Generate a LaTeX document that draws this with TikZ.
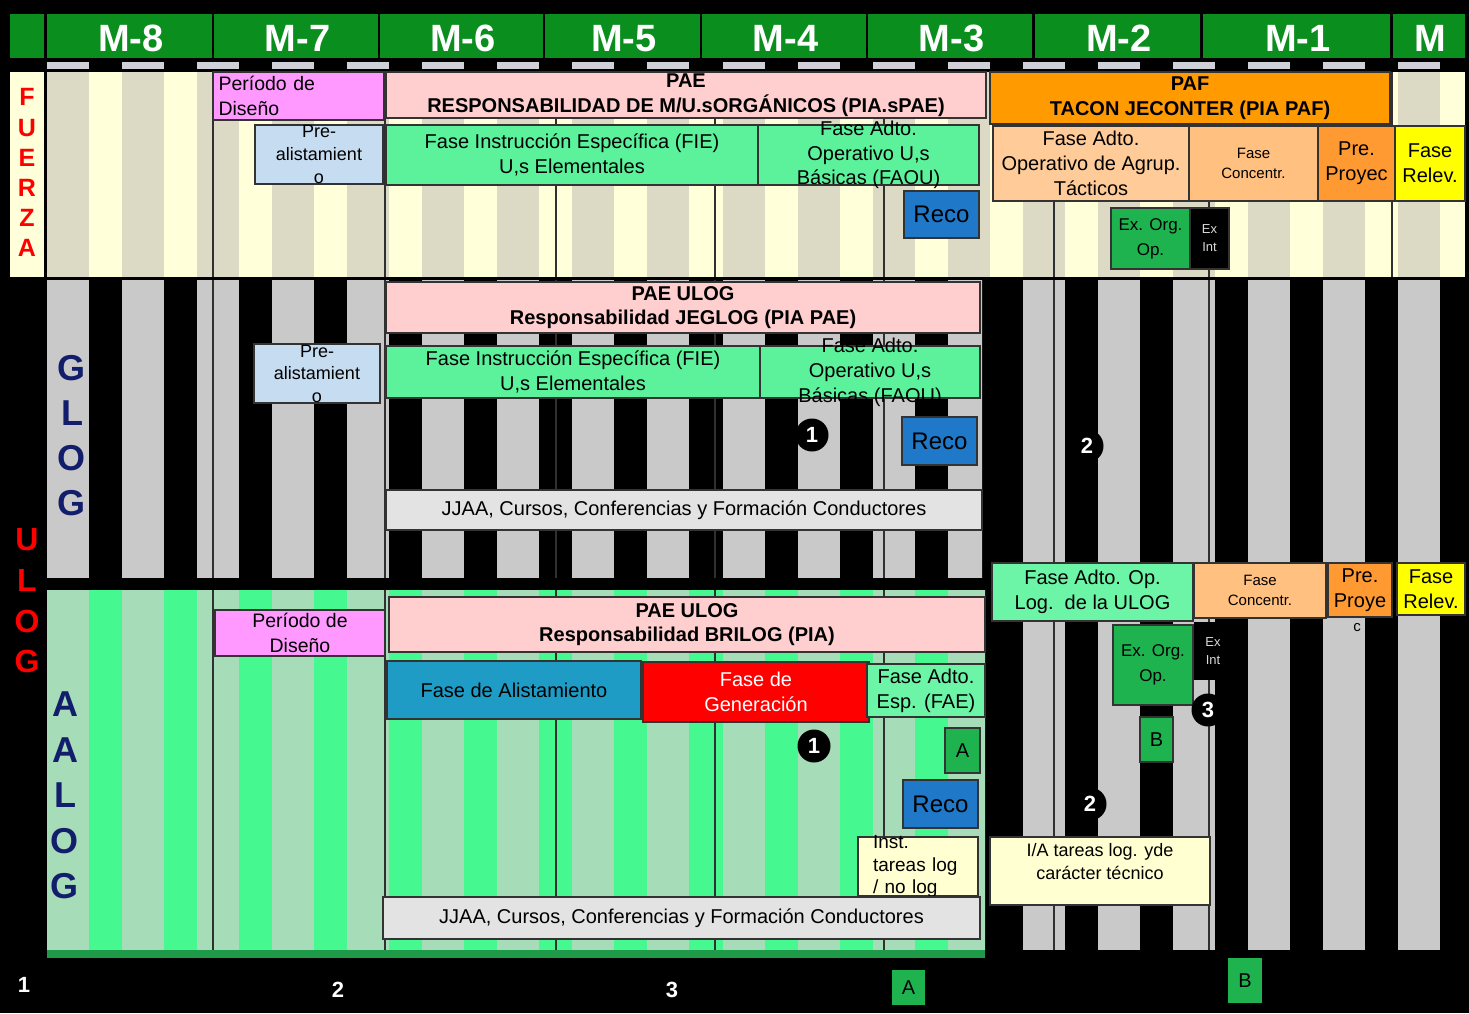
\documentclass[tikz,border=0pt]{standalone}
\usepackage{fontspec}
\setmainfont{Liberation Sans}
\newcommand\fsz[2]{\fontsize{#1}{#2}\selectfont}
\definecolor{hdr}{HTML}{0A8F1E}
\definecolor{tick}{HTML}{D0D0D8}
\definecolor{fy}{HTML}{FFFFDA}
\definecolor{fs}{HTML}{DCDAC5}
\definecolor{gs}{HTML}{C9C9C9}
\definecolor{ag}{HTML}{45F88F}
\definecolor{as}{HTML}{A7DCB9}
\definecolor{agd}{HTML}{1F9A48}
\definecolor{pinkc}{HTML}{FFCFCF}
\definecolor{mag}{HTML}{FF99FF}
\definecolor{lblue}{HTML}{C6DCF0}
\definecolor{fgreen}{HTML}{5CF29C}
\definecolor{reco}{HTML}{1F78C8}
\definecolor{paf}{HTML}{FF9A00}
\definecolor{peach}{HTML}{FFCC99}
\definecolor{conc}{HTML}{FFC080}
\definecolor{proy}{HTML}{FF9A33}
\definecolor{yel}{HTML}{FFFF00}
\definecolor{exg}{HTML}{1FB350}
\definecolor{teal}{HTML}{1E9CC6}
\definecolor{fae}{HTML}{6CF5A6}
\definecolor{inst}{HTML}{FFFFD2}
\definecolor{jj}{HTML}{E3E3E3}
\definecolor{navy}{HTML}{121E6C}
\definecolor{mline}{HTML}{303030}
\tikzset{
 bxs/.style={draw=black!80, line width=1.2pt, inner sep=0pt},
 txt/.style={inner sep=0pt, align=center, font=\fsz{20}{25}},
 ttl/.style={font=\bfseries\fsz{20}{24.5}},
 hdrbox/.style={fill=hdr, inner sep=0pt},
 hdrtxt/.style={inner sep=0pt, text=white, font=\bfseries\fsz{38}{40}},
 circ/.style={circle, fill=black, text=white, inner sep=0pt, minimum size=33pt, font=\bfseries\fsz{22}{24}},
 bigl/.style={text=navy, font=\bfseries\fsz{36}{36}, inner sep=0pt},
 redl/.style={text=red, font=\bfseries\fsz{25}{25}, inner sep=0pt},
 redu/.style={text=red, font=\bfseries\fsz{32}{32}, inner sep=0pt},
 wl/.style={text=white, font=\bfseries\fsz{22}{24}, inner sep=0pt},
 mln/.style={draw=mline, line width=1.5pt},
}
\newcommand\bx[8]{%
 \node[bxs,#6,minimum width={(#4-#2)*1pt},minimum height={(#5-#3)*1pt}] (#1) at ({(#2+#4)/2},{(#3+#5)/2}) {};
 \node[txt,#7] (#1t) at (#1.center) {#8};}
\begin{document}
\begin{tikzpicture}[x=1pt,y=-1pt]
\useasboundingbox (0,0) rectangle (1469,1013);
\fill[black] (0,0) rectangle (1469,1013);
% header
\node[hdrbox, minimum width=34pt, minimum height=44pt] (h0) at (27,36) {};
\foreach \a/\b/\l/\n in {47/212/M-8/h8,214/378/M-7/h7,380/543/M-6/h6,545/700/M-5/h5,702/866/M-4/h4,868/1032/M-3/h3,1035/1200/M-2/h2,1203/1390/M-1/h1,1393/1465/M/hm} {
  \node[hdrbox, minimum width={(\b-\a)*1pt}, minimum height=44pt] (\n) at ({(\a+\b)/2},36) {};
  \node[hdrtxt] (\n t) at ({(\a+\b)/2+1.5},38.5) {\l};}
\foreach \k in {0,...,18} \fill[tick] ({47+75.06*\k},62) rectangle ++(42,7);
% FUERZA background
\fill[fy] (10,72) rectangle (44,277);
\fill[fy] (47,72) rectangle (1465,277);
\foreach \k in {0,...,18} \fill[fs] ({47+75.06*\k},72) rectangle ++(42,205);
% GLOG stripes
\begin{scope}
\clip (47,280) rectangle (982,578);
\foreach \k in {0,...,12} \fill[gs] ({47+75.06*\k},280) rectangle ++(42,298);
\end{scope}
\foreach \k in {13,...,18} \fill[gs] ({47+75.06*\k},280) rectangle ++(42,670);
% AALOG background
\fill[ag] (47,590) rectangle (985,950);
\begin{scope}
\clip (47,590) rectangle (985,950);
\foreach \k in {0,...,12} \fill[as] ({47+75.06*\k},590) rectangle ++(42,360);
\end{scope}
\fill[agd] (47,950) rectangle (985,958);
% month lines
\foreach \x in {213,385,556,715,884} {
  \draw[mln] (\x,72) -- (\x,277);
  \draw[mln] (\x,280) -- (\x,578);
  \draw[mln] (\x,590) -- (\x,950);}
\foreach \x in {1054,1209} {
  \draw[mln] (\x,72) -- (\x,277);
  \draw[mln] (\x,280) -- (\x,950);}
\draw[mln] (1392,72) -- (1392,277);
% side labels
\foreach \l/\y [count=\i] in {F/97,U/128,E/158,R/188,Z/218,A/248}
  \node[redl] (lf\i) at (27,\y) {\l};
\foreach \l/\y [count=\i] in {U/540,L/580,O/621,G/661}
  \node[redu] (lu\i) at (27,\y) {\l};
\foreach \l/\y [count=\i] in {G/368,L/413,O/458,G/503}
  \node[bigl] (lg\i) at (72,\y) {\l};
\foreach \l/\y [count=\i] in {A/704,A/750,L/795,O/841,G/886}
  \node[bigl] (la\i) at (65,\y) {\l};
% FUERZA boxes
\bx{fdis}{213}{72}{384}{120}{fill=mag}{text width=160pt, align=left, font=\fsz{19.5}{25}}{Período de\\Diseño}
\bx{fpae}{386}{72}{986}{118}{fill=pinkc}{ttl}{PAE\\RESPONSABILIDAD DE M/U.sORGÁNICOS (PIA.sPAE)}
\bx{fpre}{255}{125}{383}{184}{fill=lblue}{font=\fsz{18}{23}}{Pre-\\alistamient\\o}
\bx{ffie}{386}{125}{758}{185}{fill=fgreen}{}{Fase Instrucción Específica (FIE)\\U,s Elementales}
\bx{ffaou}{758}{125}{979}{185}{fill=fgreen}{font=\fsz{20}{24.5}}{Fase Adto.\\Operativo U,s\\Básicas (FAOU)}
\bx{freco}{904}{191}{979}{238}{fill=reco}{font=\fsz{24}{26}}{Reco}
\bx{fpaf}{990}{72}{1390}{124}{fill=paf}{ttl}{PAF\\TACON JECONTER (PIA PAF)}
\bx{fagr}{993}{126}{1189}{201}{fill=peach}{}{Fase Adto.\\Operativo de Agrup.\\Tácticos}
\bx{fconc}{1189}{126}{1318}{201}{fill=conc}{font=\fsz{15}{20}}{Fase\\Concentr.}
\bx{fproy}{1318}{126}{1395}{201}{fill=proy}{}{Pre.\\Proyec}
\bx{frel}{1395}{126}{1465}{201}{fill=yel}{}{Fase\\Relev.}
\bx{fexo}{1111}{208}{1190}{269}{fill=exg}{font=\fsz{17}{25}}{Ex. Org.\\Op.}
\bx{fexi}{1190}{208}{1229}{269}{fill=black}{text=white!85!black, font=\fsz{13}{18}}{Ex\\Int}
% GLOG boxes
\bx{gpae}{386}{282}{980}{333}{fill=pinkc}{ttl}{PAE ULOG\\Responsabilidad JEGLOG (PIA PAE)}
\bx{gpre}{254}{344}{380}{403}{fill=lblue}{font=\fsz{18}{22.5}}{Pre-\\alistamient\\o}
\bx{gfie}{386}{346}{760}{398}{fill=fgreen}{}{Fase Instrucción Específica (FIE)\\U,s Elementales}
\bx{gfaou}{760}{346}{980}{398}{fill=fgreen}{}{Fase Adto.\\Operativo U,s\\Básicas (FAOU)}
\bx{greco}{902}{417}{977}{465}{fill=reco}{font=\fsz{24}{26}}{Reco}
\bx{gjj}{386}{490}{982}{530}{fill=jj}{}{JJAA, Cursos, Conferencias y Formación Conductores}
% AALOG boxes
\bx{adis}{215}{610}{385}{656}{fill=mag}{font=\fsz{19.5}{24.5}}{Período de\\Diseño}
\bx{apae}{389}{597}{985}{652}{fill=pinkc}{ttl}{PAE ULOG\\Responsabilidad BRILOG (PIA)}
\bx{aali}{387}{661}{641}{719}{fill=teal}{}{Fase de Alistamiento}
\bx{agen}{643}{662}{869}{722}{fill=red}{text=white}{Fase de\\Generación}
\bx{afae}{867}{664}{985}{717}{fill=fae}{}{Fase Adto.\\Esp. (FAE)}
\bx{aA}{945}{728}{980}{773}{fill=exg}{font=\fsz{20}{22}}{A}
\bx{areco}{903}{780}{978}{828}{fill=reco}{font=\fsz{24}{26}}{Reco}
\bx{ainst}{858}{837}{978}{896}{fill=inst}{text width=90pt, align=left, font=\fsz{19}{22.5}}{Inst.\\tareas log\\/ no log}
\bx{ajj}{383}{897}{980}{939}{fill=jj}{}{JJAA, Cursos, Conferencias y Formación Conductores}
% right lower boxes
\bx{rlog}{992}{563}{1193}{621}{fill=fae}{}{Fase Adto. Op.\\Log.\ \ de la ULOG}
\bx{rconc}{1194}{563}{1326}{618}{fill=conc}{font=\fsz{15}{20}}{Fase\\Concentr.}
\bx{rproy}{1328}{563}{1392}{617}{fill=proy}{}{Pre.\\Proye}
\node[inner sep=0pt, font=\fsz{15}{16}] (rproyc) at (1357,628) {c};
\bx{rrel}{1397}{563}{1465}{615}{fill=yel}{}{Fase\\Relev.}
\bx{rexo}{1113}{625}{1193}{705}{fill=exg}{font=\fsz{17}{25}}{Ex. Org.\\Op.}
\bx{rexi}{1194}{622}{1232}{680}{fill=black, draw=none}{text=white!85!black, font=\fsz{13}{18}}{Ex\\Int}
\bx{rB}{1140}{717}{1173}{762}{fill=exg}{font=\fsz{20}{22}}{B}
\bx{ria}{990}{837}{1210}{905}{fill=inst}{yshift=9.5pt, font=\fsz{18}{23}}{I/A tareas log. yde\\carácter técnico}
% numbered circles
\node[circ] (n1g) at (812,435) {1};
\node[circ] (n1a) at (814,746) {1};
\node[circ] (n2g) at (1087,446) {2};
\node[circ] (n2a) at (1090,804) {2};
\node[circ] (n3) at (1208,710) {3};
% bottom labels
\node[wl] (b1) at (24,985) {1};
\node[wl] (b2) at (338,990) {2};
\node[wl] (b3) at (672,990) {3};
\bx{bA}{892}{970}{925}{1005}{fill=exg, draw=none}{font=\fsz{20}{22}}{A}
\bx{bB}{1228}{958}{1262}{1003}{fill=exg, draw=none}{font=\fsz{20}{22}}{B}
\end{tikzpicture}
\end{document}
